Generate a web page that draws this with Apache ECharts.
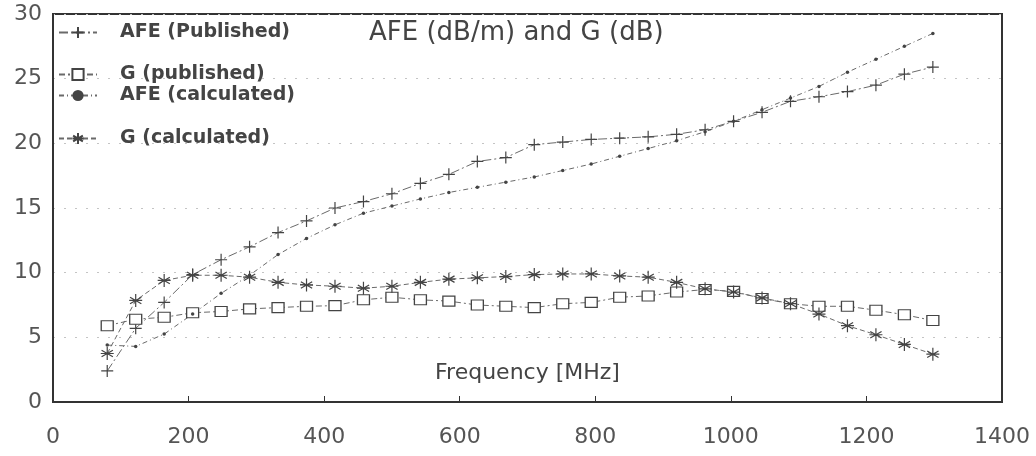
<!DOCTYPE html>
<html>
<head>
<meta charset="utf-8">
<script src="https://cdn.jsdelivr.net/npm/echarts@6/dist/echarts.min.js"></script>
<style>
html,body{margin:0;padding:0;background:#fff;}
#chart{width:1036px;height:456px;}
</style>
</head>
<body>
<div id="chart"></div>
<script>
const frequencies = [80,122,164,206,248,290,332,374,416,458,500,542,584,626,668,710,752,794,836,878,920,962,1004,1046,1088,1130,1172,1214,1256,1298];
const afePublished = [2.4,5.7,7.7,9.85,11.0,12.0,13.1,14.0,15.0,15.5,16.1,16.9,17.6,18.6,18.9,19.9,20.1,20.3,20.4,20.5,20.7,21.05,21.7,22.4,23.25,23.6,24.0,24.5,25.35,25.9];
const gPublished = [5.9,6.4,6.55,6.9,7.0,7.2,7.3,7.4,7.45,7.9,8.1,7.9,7.8,7.5,7.4,7.3,7.6,7.7,8.1,8.2,8.5,8.7,8.55,8.0,7.6,7.4,7.4,7.1,6.75,6.3];
const afeCalculated = [4.4,4.3,5.25,6.8,8.4,9.8,11.4,12.65,13.7,14.6,15.15,15.7,16.2,16.6,17.0,17.4,17.9,18.4,19.0,19.6,20.2,20.9,21.7,22.6,23.5,24.4,25.5,26.5,27.5,28.5];
const gCalculated = [3.75,7.85,9.4,9.8,9.8,9.65,9.25,9.05,8.95,8.8,8.95,9.25,9.5,9.6,9.7,9.85,9.9,9.9,9.75,9.65,9.25,8.75,8.5,8.05,7.6,6.8,5.9,5.2,4.45,3.7];
const seriesNames = ['AFE (Published)','G (published)','AFE (calculated)','G (calculated)'];
const xTicks = {min:0, max:1400, interval:200};
const yTicks = {min:0, max:30, interval:5};
const titleText = 'AFE (dB/m) and G (dB)';
const xAxisName = 'Frequency [MHz]';

const pair = (ys) => frequencies.map((f,i)=>[f, ys[i]]);
const ink = '#444';
const lineInk = '#6a6a6a';
const FONT = 'DejaVu Sans';

const plusPath = 'path://M0,-1V1M-1,0H1';
const starPath = 'path://M0,-1V1M-0.87,-0.5L0.87,0.5M-0.87,0.5L0.87,-0.5M-1,0H1';

const legendTops = [23, 65, 86, 129];
const legends = seriesNames.map((n,i)=>({
  data:[n], left:58, top:legendTops[i], orient:'vertical', padding:0,
  itemWidth:38, itemHeight:14,
  textStyle:{fontFamily:FONT, fontWeight:'bold', fontSize:19, color:ink, padding:[0,0,0,18]}
}));

const chart = echarts.init(document.getElementById('chart'), null, {renderer:'canvas'});
chart.setOption({
  animation:false,
  backgroundColor:'#fff',
  title:{text:titleText, left:369, top:20, padding:0,
    textStyle:{fontFamily:FONT, fontWeight:'normal', fontSize:26, color:ink}},
  legend:legends,
  grid:{left:53, right:34, top:14, bottom:54, show:true, borderColor:'#333', borderWidth:2, backgroundColor:'transparent'},
  xAxis:{type:'value', min:xTicks.min, max:xTicks.max, interval:xTicks.interval,
    name:xAxisName, nameLocation:'middle', nameGap:-29,
    nameTextStyle:{fontFamily:FONT, fontSize:22, color:ink, verticalAlign:'middle'},
    axisLine:{lineStyle:{color:'#333', width:2}},
    axisTick:{show:true, inside:true, length:6, lineStyle:{color:'#333'}},
    axisLabel:{fontFamily:FONT, fontSize:22, color:'#555', margin:24, formatter:(v)=>String(v)},
    splitLine:{show:false}},
  yAxis:{type:'value', min:yTicks.min, max:yTicks.max, interval:yTicks.interval,
    axisLine:{show:true, lineStyle:{color:'#333', width:2}},
    axisTick:{show:false},
    axisLabel:{fontFamily:FONT, fontSize:22, color:'#555', margin:11},
    splitLine:{show:true, lineStyle:{color:'#c4c4c4', width:1.2, type:[2,9]}}},
  series:[
    {name:seriesNames[0], type:'line', data:pair(afePublished), symbol:plusPath, symbolSize:12,
      itemStyle:{color:ink, borderColor:ink, borderWidth:1.2},
      lineStyle:{color:lineInk, width:1, type:[9,3,2,3]}},
    {name:seriesNames[1], type:'line', data:pair(gPublished), symbol:'rect', symbolSize:[12,10],
      itemStyle:{color:'#fff', borderColor:ink, borderWidth:1.2},
      lineStyle:{color:lineInk, width:1, type:[6,3,2,3]}},
    {name:seriesNames[2], type:'line', data:pair(afeCalculated), symbol:'circle', symbolSize:3.5,
      itemStyle:{color:ink, borderWidth:0},
      lineStyle:{color:lineInk, width:1, type:[5,3,1,3]}},
    {name:seriesNames[3], type:'line', data:pair(gCalculated), symbol:starPath, symbolSize:13,
      itemStyle:{color:ink, borderColor:ink, borderWidth:1.2},
      lineStyle:{color:lineInk, width:1, type:[5,3]}}
  ]
});
</script>
</body>
</html>
